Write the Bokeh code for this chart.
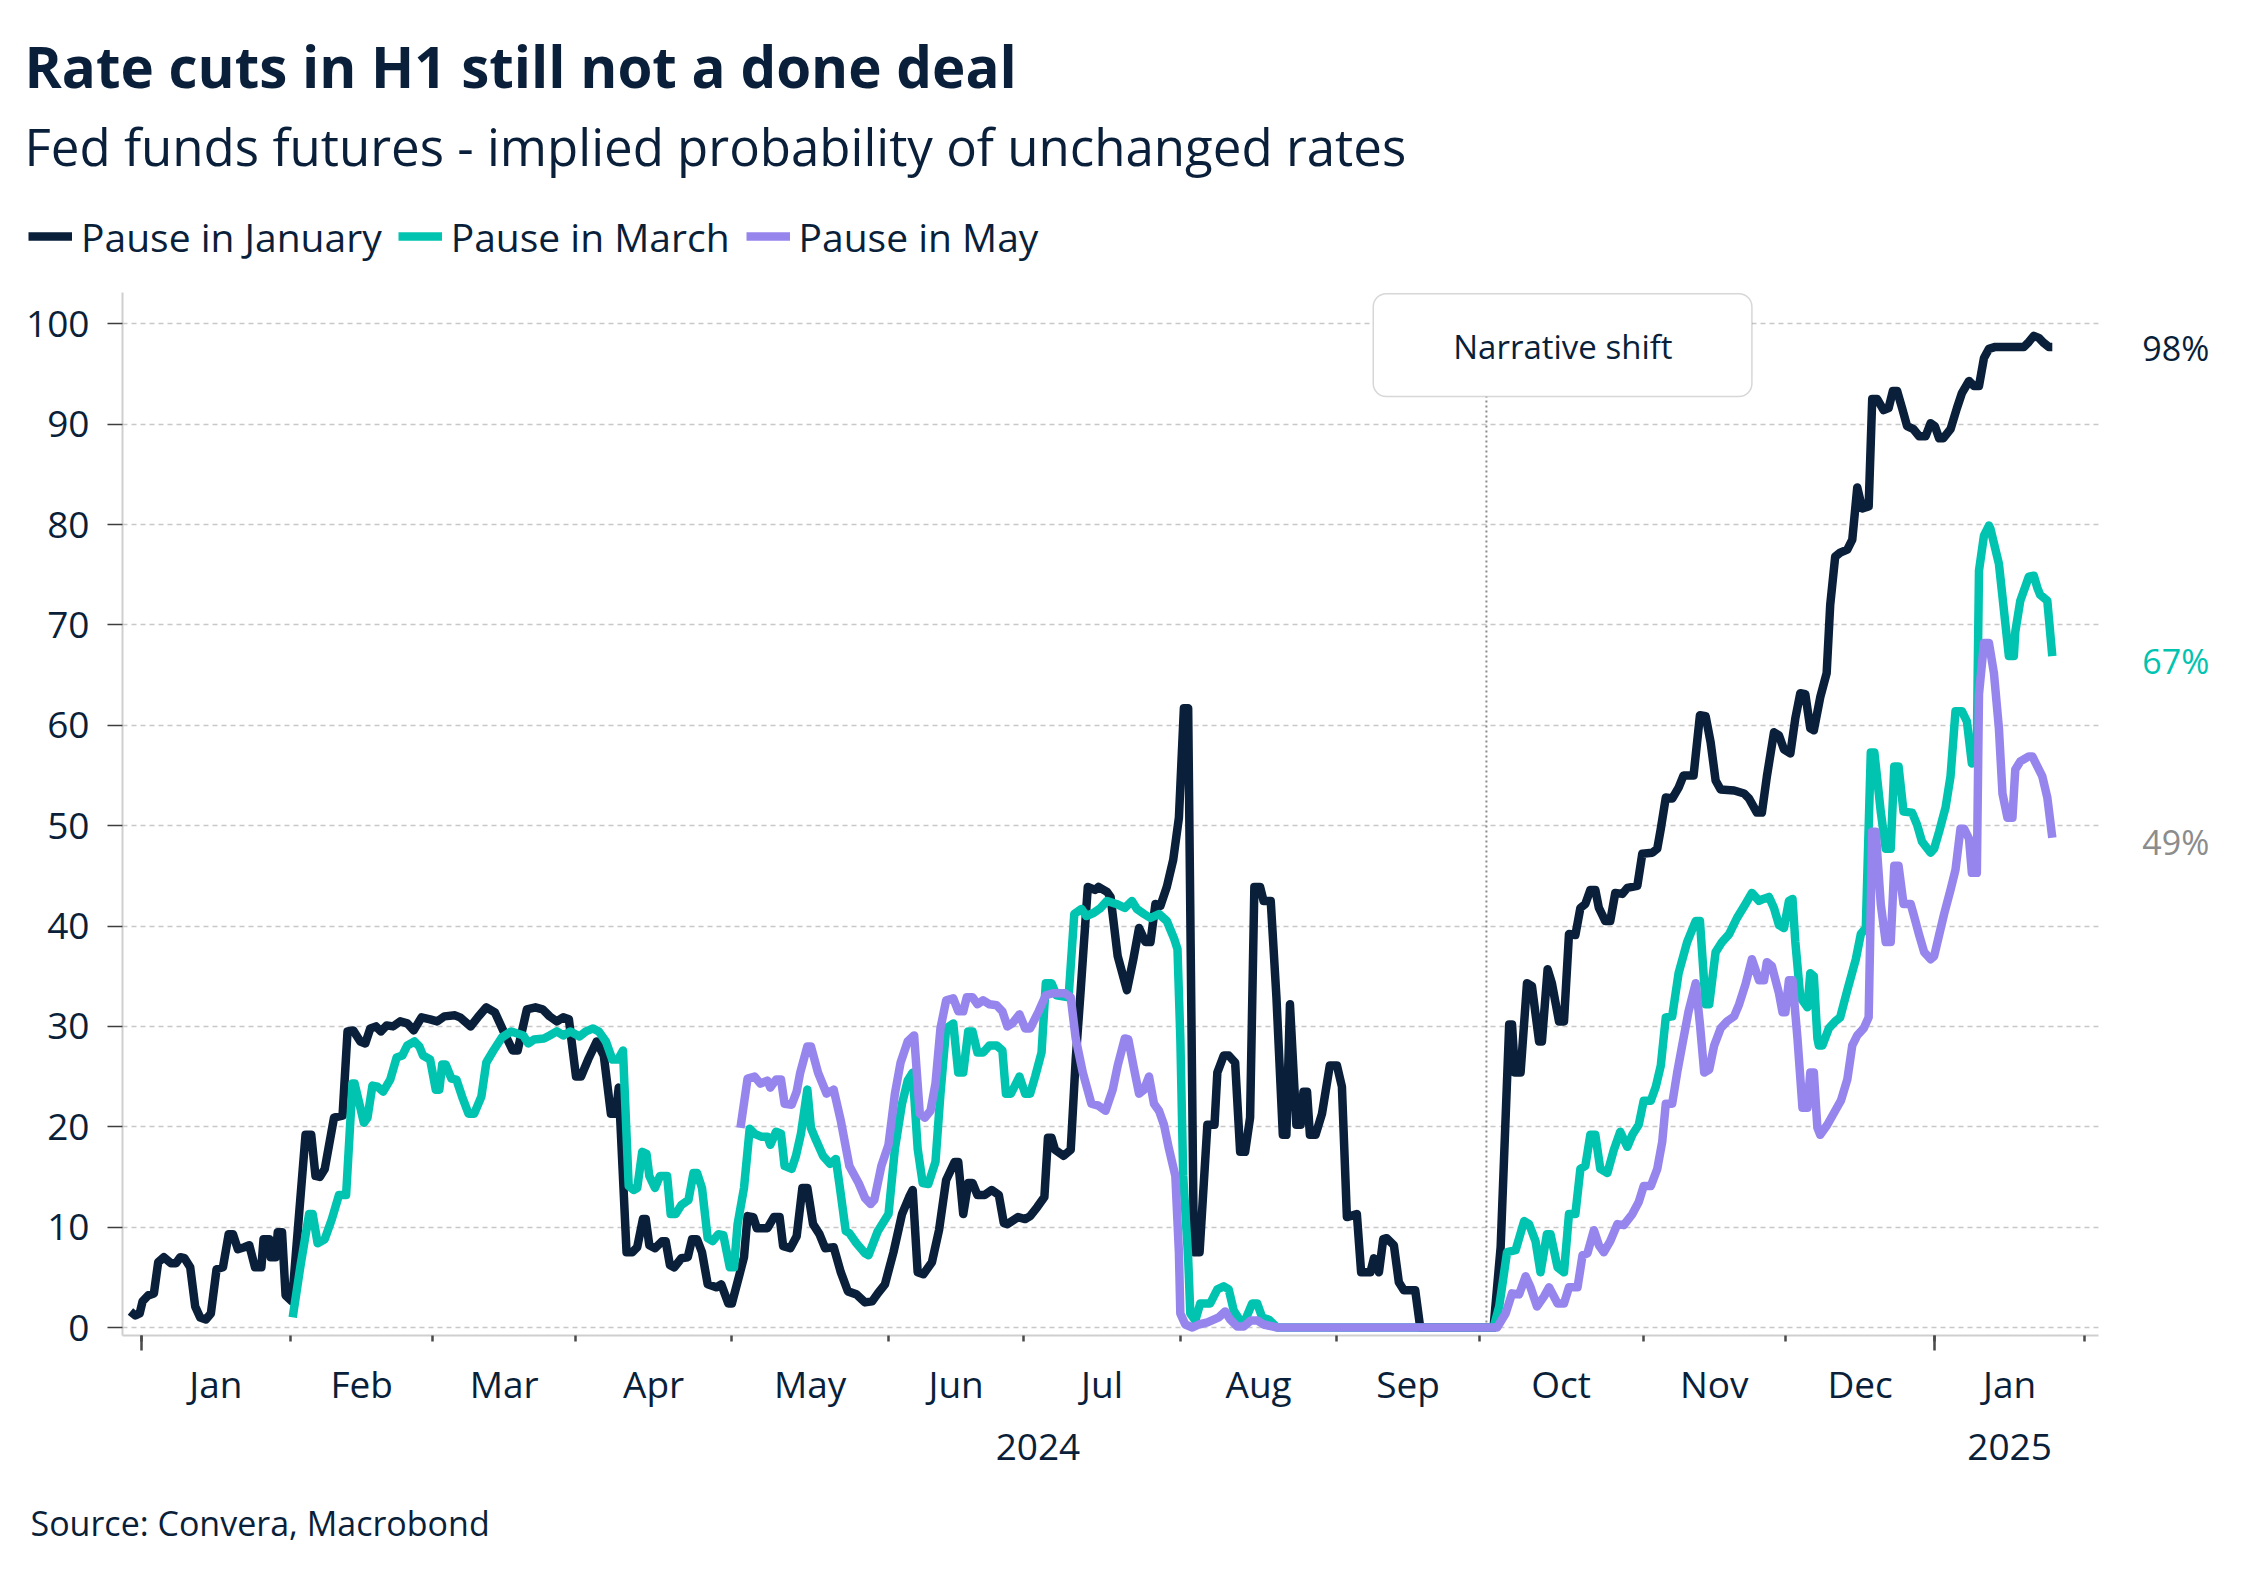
from bokeh.plotting import figure
from bokeh.layouts import column
from bokeh.models import (FixedTicker, LinearAxis, Label, Legend, LegendItem,
                          BoxAnnotation, Range1d)
from bokeh.embed import file_html
from bokeh.resources import INLINE

# ------------------------------------------------------------------ data
# x = trading-day index since 2 Jan 2024, y = implied probability (%)
jan_points = [(-1.5,1.6),(-0.8,1.2),(-0.2,1.4),(0.2,2.6),(1.0,3.2),(1.8,3.4),(2.4,6.5),(3.2,7.0),(4.2,6.4),(4.9,6.4),(5.5,7.0),(6.1,6.9),(6.9,6.0),(7.6,2.1),(8.3,1.0),(9.1,0.8),(9.8,1.4),(10.6,5.8),(11.5,6.0),(12.3,9.3),(12.9,9.3),(13.6,7.8),(14.5,8.0),(15.2,8.2),(16.0,6.0),(16.9,6.0),(17.2,8.8),(18.0,8.8),(18.2,7.0),(18.9,7.0),(19.2,9.5),(19.8,9.5),(20.3,3.2),(21.2,2.6),(23.1,19.2),(23.9,19.2),(24.5,15.1),(25.1,15.0),(25.8,15.8),(27.1,20.9),(28.3,21.1),(29.0,29.5),(29.8,29.6),(30.8,28.5),(31.5,28.3),(32.2,29.8),(33.0,30.0),(33.7,29.5),(34.5,30.1),(35.4,30.0),(36.4,30.5),(37.4,30.3),(38.3,29.6),(39.4,30.9),(40.6,30.7),(41.6,30.5),(42.6,31.0),(44.1,31.1),(44.8,30.9),(46.3,30.0),(47.3,30.9),(48.5,31.9),(49.7,31.4),(51.0,29.4),(52.2,27.6),(52.9,27.6),(54.2,31.7),(55.4,31.9),(56.4,31.7),(57.4,31.0),(58.4,30.5),(59.3,30.9),(60.1,30.7),(61.1,25.0),(61.8,25.0),(62.8,26.7),(64.0,28.5),(65.0,27.1),(66.0,21.3),(66.7,21.3),(67.1,23.9),(68.2,7.5),(69.0,7.5),(69.7,8.0),(70.5,10.8),(70.9,10.8),(71.4,8.2),(72.2,7.9),(73.2,8.6),(73.7,8.6),(74.3,6.2),(74.9,6.0),(75.9,6.9),(76.8,7.0),(77.4,8.8),(78.1,8.8),(78.8,7.5),(79.6,4.3),(80.8,4.0),(81.5,4.3),(82.5,2.4),(83.0,2.4),(84.0,5.1),(84.7,7.0),(85.2,11.1),(86.0,11.0),(86.5,9.9),(88.0,9.9),(88.9,11.0),(89.7,11.0),(90.2,8.1),(91.2,7.9),(92.1,9.1),(92.9,13.9),(93.6,13.9),(94.4,10.3),(95.3,9.3),(96.1,7.9),(97.3,8.0),(98.3,5.5),(99.3,3.6),(100.5,3.3),(101.7,2.5),(102.7,2.6),(103.5,3.4),(104.5,4.3),(105.7,7.5),(106.9,11.3),(107.9,13.0),(108.4,13.7),(109.1,5.5),(109.9,5.3),(111.1,6.5),(112.1,9.7),(113.1,14.7),(114.3,16.5),(114.8,16.5),(115.5,11.3),(116.2,14.4),(116.8,14.4),(117.5,13.2),(118.5,13.2),(119.5,13.7),(120.5,13.2),(121.2,10.4),(121.7,10.3),(123.2,11.0),(124.2,10.8),(124.9,11.1),(125.9,12.0),(126.9,13.0),(127.4,18.9),(127.9,18.9),(128.4,17.7),(129.6,17.1),(130.6,17.7),(131.3,26.7),(132.0,33.6),(133.0,43.9),(134.0,43.6),(134.5,43.9),(135.7,43.4),(136.2,42.9),(137.2,37.0),(138.5,33.6),(139.4,36.7),(140.2,39.8),(141.1,38.4),(141.8,38.4),(142.5,42.2),(143.2,42.0),(144.1,43.9),(145.0,46.6),(145.8,50.8),(146.5,61.7),(147.1,61.7),(147.9,7.5),(148.7,7.5),(149.8,20.2),(150.8,20.2),(151.2,25.4),(152.1,27.1),(152.8,27.1),(153.7,26.4),(154.4,17.5),(155.1,17.5),(155.8,20.9),(156.4,43.9),(157.2,43.9),(157.7,42.5),(158.7,42.5),(159.5,32.9),(160.4,19.2),(160.9,19.2),(161.4,32.2),(162.3,20.2),(162.9,20.2),(163.3,23.5),(163.8,23.5),(164.2,19.2),(165.0,19.2),(165.9,21.3),(167.0,26.1),(168.0,26.1),(168.7,24.0),(169.4,11.0),(170.8,11.3),(171.4,5.5),(172.7,5.5),(173.2,6.9),(173.9,5.5),(174.5,8.8),(175.0,8.9),(176.0,8.2),(176.7,4.5),(177.4,3.7),(179.0,3.7),(179.7,0.0),(190.0,0.0),(191.0,8.0),(192.2,30.2),(192.6,30.2),(193.0,25.4),(193.8,25.4),(194.7,34.3),(195.4,34.0),(196.4,28.5),(196.8,28.5),(197.6,35.7),(198.2,34.3),(199.2,30.5),(199.9,30.5),(200.6,39.2),(201.5,39.1),(202.2,41.8),(202.9,42.2),(203.6,43.6),(204.3,43.6),(204.8,41.8),(205.7,40.5),(206.4,40.5),(207.1,43.3),(208.1,43.2),(208.8,43.8),(210.2,44.0),(210.9,47.2),(212.3,47.3),(213.0,47.7),(213.5,49.7),(214.2,52.8),(215.1,52.7),(216.0,53.8),(216.7,55.0),(218.1,55.0),(219.0,61.0),(219.8,60.9),(220.5,58.3),(221.2,54.5),(221.9,53.6),(223.8,53.5),(225.2,53.2),(225.9,52.7),(227.0,51.3),(227.7,51.3),(228.4,54.9),(229.4,59.3),(230.1,59.0),(230.8,57.6),(231.7,57.2),(232.4,60.7),(233.1,63.2),(233.8,63.1),(234.5,59.7),(235.0,59.5),(235.9,62.8),(236.8,65.2),(237.3,72.0),(238.0,76.8),(238.7,77.2),(239.7,77.5),(240.4,78.5),(241.1,83.7),(241.8,81.6),(242.7,81.8),(243.2,92.5),(243.9,92.5),(244.8,91.4),(245.5,91.6),(246.1,93.3),(246.7,93.3),(247.4,91.6),(248.1,89.8),(249.0,89.5),(249.8,88.8),(250.7,88.8),(251.4,90.1),(252.0,89.8),(252.6,88.6),(253.2,88.6),(254.2,89.5),(255.1,91.6),(255.8,93.1),(256.8,94.3),(257.5,93.8),(258.2,93.8),(258.9,96.6),(259.6,97.5),(260.5,97.7),(264.5,97.7),(265.2,98.2),(265.9,98.8),(266.6,98.6),(267.3,98.1),(268.0,97.7),(268.5,97.7)]

mar_points = [(21.3,1.0),(22.4,6.2),(23.6,11.3),(24.1,11.3),(24.8,8.4),(25.8,8.8),(26.8,10.8),(27.8,13.2),(28.8,13.2),(29.7,24.3),(30.0,24.3),(31.3,20.4),(31.8,20.9),(32.5,24.1),(33.2,24.0),(34.0,23.5),(35.0,24.7),(35.9,26.9),(36.7,27.1),(37.4,28.1),(38.4,28.5),(39.1,28.0),(39.6,27.1),(40.6,26.7),(41.4,23.7),(41.9,23.7),(42.3,26.2),(42.8,26.2),(43.6,24.8),(44.3,24.7),(45.1,23.0),(46.0,21.3),(46.8,21.3),(47.8,23.0),(48.5,26.4),(49.5,27.6),(50.7,28.9),(52.0,29.5),(53.7,29.1),(54.4,28.3),(55.2,28.7),(56.6,28.8),(57.4,29.1),(58.4,29.5),(59.3,29.1),(60.3,29.5),(61.6,29.0),(62.5,29.5),(63.5,29.8),(64.3,29.5),(65.3,28.5),(66.2,26.7),(67.0,26.7),(67.7,27.6),(68.5,14.1),(69.2,13.7),(69.7,13.9),(70.4,17.5),(71.0,17.3),(71.4,15.1),(72.2,13.9),(72.9,15.1),(73.9,15.1),(74.4,11.3),(75.1,11.3),(75.9,12.2),(76.9,12.7),(77.6,15.4),(78.1,15.4),(78.8,13.9),(79.6,8.9),(80.3,8.6),(81.1,9.3),(81.8,9.2),(82.7,6.0),(83.3,6.0),(83.8,10.3),(84.7,13.9),(85.5,19.8),(86.2,19.3),(87.2,19.0),(88.0,19.0),(88.4,18.2),(89.2,19.5),(89.9,19.3),(90.4,16.1),(91.4,15.8),(92.0,17.1),(92.7,19.3),(93.6,23.7),(94.1,19.9),(94.8,18.7),(95.8,17.1),(96.8,16.3),(97.6,16.8),(98.1,14.3),(99.0,9.6),(99.5,9.4),(100.5,8.4),(101.7,7.4),(102.2,7.2),(103.5,9.6),(105.0,11.3),(105.9,17.8),(106.9,22.3),(107.7,24.6),(108.4,25.4),(109.1,17.8),(109.8,14.4),(110.6,14.3),(111.6,16.5),(112.3,23.3),(113.1,29.8),(114.1,30.3),(114.8,25.4),(115.5,25.4),(116.2,29.5),(116.8,29.5),(117.5,27.4),(118.3,27.4),(119.2,28.1),(120.2,28.1),(121.0,27.6),(121.5,23.3),(122.2,23.3),(123.4,25.0),(124.2,23.3),(124.9,23.3),(125.6,25.0),(126.5,27.4),(127.1,34.3),(127.9,34.3),(128.6,33.1),(130.3,32.9),(131.1,41.2),(132.1,41.7),(132.8,41.0),(133.8,41.3),(134.8,41.8),(135.7,42.5),(137.0,42.2),(138.2,41.8),(139.2,42.5),(139.9,41.7),(140.9,41.2),(141.8,40.8),(143.0,41.2),(144.1,40.5),(145.1,38.8),(145.6,37.7),(146.0,28.8),(146.4,15.1),(147.1,6.9),(147.4,1.4),(148.1,0.7),(148.8,2.4),(150.2,2.4),(151.2,3.8),(152.1,4.1),(152.8,3.8),(153.5,1.7),(154.4,0.7),(155.1,0.7),(156.1,2.4),(156.8,2.4),(157.5,1.0),(158.4,0.8),(159.6,0.0),(190.0,0.0),(190.8,2.1),(191.9,7.5),(193.1,7.7),(194.3,10.6),(195.0,10.3),(195.9,8.6),(196.6,5.5),(197.5,9.3),(198.0,9.3),(199.0,6.0),(199.9,5.5),(200.6,11.3),(201.5,11.3),(202.2,15.8),(202.9,16.1),(203.6,19.2),(204.3,19.2),(205.0,15.8),(206.0,15.4),(206.9,17.7),(207.8,19.5),(208.8,18.0),(209.5,19.2),(210.4,20.2),(211.1,22.6),(212.1,22.6),(212.8,24.0),(213.5,26.1),(214.2,30.9),(215.1,31.0),(216.0,35.3),(217.2,38.4),(218.4,40.5),(219.0,40.5),(219.8,32.2),(220.3,32.2),(221.2,37.4),(222.1,38.4),(223.1,39.2),(224.2,40.8),(225.4,42.2),(226.3,43.3),(227.3,42.5),(227.9,42.7),(228.7,42.9),(229.4,41.8),(230.1,40.1),(230.8,39.8),(231.5,42.5),(232.0,42.7),(232.4,38.4),(233.1,32.9),(234.1,31.9),(234.5,35.3),(235.0,35.0),(235.5,28.8),(235.7,28.1),(236.2,28.1),(237.1,29.8),(238.0,30.5),(238.7,30.9),(239.7,33.6),(240.9,36.7),(241.6,39.2),(242.3,39.8),(243.0,57.3),(243.5,57.3),(244.4,51.4),(245.1,47.7),(245.8,47.7),(246.3,55.9),(246.9,55.9),(247.6,51.4),(248.8,51.3),(249.5,50.1),(250.2,48.4),(251.4,47.3),(251.9,47.7),(252.6,49.4),(253.5,51.8),(254.2,54.9),(254.9,61.4),(255.8,61.4),(256.5,60.4),(257.2,56.2),(257.9,58.2),(258.2,75.4),(258.9,78.9),(259.6,79.9),(259.8,79.6),(261.0,76.1),(262.4,66.9),(263.1,66.9),(263.3,69.3),(264.0,72.4),(265.2,74.8),(265.9,74.9),(266.4,73.7),(266.8,73.0),(267.8,72.4),(268.5,66.9)]

may_points = [(84.2,19.9),(85.2,24.8),(86.2,25.0),(87.0,24.3),(88.0,24.6),(88.4,23.9),(89.2,24.7),(89.9,24.7),(90.4,22.3),(91.4,22.2),(92.1,23.5),(92.6,25.4),(93.6,28.0),(94.1,28.0),(95.1,25.4),(96.3,23.3),(97.3,23.7),(98.3,20.6),(99.5,16.1),(100.8,14.4),(101.7,12.9),(102.5,12.3),(103.0,12.7),(104.0,16.1),(105.0,18.2),(105.9,23.3),(106.7,26.4),(107.7,28.5),(108.6,29.1),(109.4,21.3),(110.1,20.9),(110.9,21.6),(111.6,24.3),(112.3,29.8),(113.1,32.6),(114.1,32.8),(114.8,31.5),(115.5,31.5),(116.0,32.9),(116.8,32.9),(117.5,32.2),(118.3,32.6),(119.2,32.2),(120.2,32.1),(121.0,31.5),(121.7,30.0),(122.4,30.3),(123.4,31.2),(124.2,29.8),(124.9,29.8),(126.1,31.5),(127.1,33.1),(128.1,33.3),(129.8,33.3),(130.6,32.9),(131.3,28.8),(132.3,25.4),(133.5,22.3),(134.5,22.1),(135.5,21.6),(136.5,23.7),(137.2,26.1),(138.2,28.8),(138.7,28.7),(139.4,26.1),(140.2,23.3),(140.9,23.7),(141.6,25.0),(142.3,22.3),(143.0,21.6),(143.7,20.2),(144.4,17.8),(145.3,15.1),(145.8,7.5),(146.0,1.4),(146.7,0.3),(147.7,0.0),(148.6,0.3),(149.8,0.5),(151.4,1.0),(152.3,1.6),(153.0,0.8),(154.0,0.1),(154.9,0.1),(155.9,0.7),(156.8,0.7),(157.7,0.3),(159.6,0.0),(190.5,0.0),(191.7,1.4),(192.6,3.4),(193.6,3.3),(194.5,5.1),(195.2,4.0),(196.1,2.1),(197.1,3.1),(197.8,4.0),(199.0,2.4),(199.9,2.4),(200.6,4.0),(201.8,4.0),(202.5,7.2),(203.2,7.4),(204.1,9.7),(204.8,8.2),(205.5,7.5),(206.4,8.6),(207.4,10.3),(208.3,10.2),(209.5,11.3),(210.4,12.5),(211.1,14.1),(212.1,14.1),(213.0,15.8),(213.7,18.5),(214.2,22.3),(215.1,22.3),(215.8,25.4),(216.5,28.1),(217.4,31.5),(218.4,34.3),(219.0,30.2),(219.6,25.4),(220.3,25.7),(221.0,28.1),(221.9,29.8),(222.8,30.5),(223.8,31.0),(224.5,32.2),(225.4,34.2),(226.3,36.7),(227.3,34.6),(228.0,34.6),(228.4,36.4),(229.1,36.0),(230.1,33.3),(230.6,31.4),(231.0,31.4),(231.5,34.6),(232.0,34.6),(232.7,28.8),(233.4,21.9),(234.1,21.9),(234.5,25.4),(235.0,25.4),(235.5,19.9),(235.9,19.2),(236.9,20.2),(238.0,21.6),(238.8,22.6),(239.7,24.7),(240.4,28.1),(241.1,29.1),(242.0,29.8),(242.7,30.9),(243.2,49.4),(243.7,49.4),(244.4,42.2),(245.1,38.4),(245.8,38.4),(246.3,46.0),(246.9,46.0),(247.6,42.2),(248.6,42.2),(249.0,41.2),(249.8,39.1),(250.5,37.4),(251.4,36.7),(251.9,37.0),(252.6,39.1),(253.3,41.2),(254.2,43.6),(254.9,45.6),(255.6,49.7),(256.1,49.7),(256.8,48.7),(257.2,45.3),(257.9,45.3),(258.2,63.1),(258.9,68.2),(259.6,68.2),(260.3,65.2),(261.0,59.7),(261.5,53.2),(262.2,50.8),(262.9,50.8),(263.3,55.6),(264.0,56.4),(265.2,56.9),(265.7,56.9),(266.4,55.9),(267.1,54.9),(267.8,52.8),(268.5,48.8)]

series_names = ["Pause in January", "Pause in March", "Pause in May"]
month_names = ["Jan", "Feb", "Mar", "Apr", "May", "Jun", "Jul", "Aug", "Sep", "Oct", "Nov", "Dec", "Jan"]
month_trading_days = [21, 20, 20, 22, 22, 19, 22, 22, 20, 23, 20, 21, 21]
year_names = ["2024", "2025"]
y_ticks = [0, 10, 20, 30, 40, 50, 60, 70, 80, 90, 100]
narrative_day = 189
narrative_text = "Narrative shift"
title_text = "Rate cuts in H1 still not a done deal"
subtitle_text = "Fed funds futures - implied probability of unchanged rates"
source_text = "Source: Convera, Macrobond"

# ------------------------------------------------------------------ derived axis positions
bounds = [0]
for d in month_trading_days:
    bounds.append(bounds[-1] + d)
month_mids = [(a + b) / 2 for a, b in zip(bounds[:-1], bounds[1:])]
year_bounds = [bounds[0], bounds[12]]
year_mids = [(bounds[0] + bounds[12]) / 2, (bounds[12] + bounds[13]) / 2]
all_points = [jan_points, mar_points, may_points]

# ------------------------------------------------------------------ style
FONT = "Open Sans"
NAVY = "#0A1F3A"
TEAL = "#00C4B0"
PURPLE = "#9785EE"
GREY_LABEL = "#8C8C8C"
colors = [NAVY, TEAL, PURPLE]
label_colors = [NAVY, TEAL, GREY_LABEL]
LW = 8.5
W = 2240
HEADER_H = 292
FOOTER_H = 88
CHART_H = 1568 - HEADER_H - FOOTER_H
X_END_GRID = 275.04   # right end of the grid / axis line


def bare(fig):
    fig.outline_line_color = None
    fig.background_fill_color = "white"
    fig.border_fill_color = "white"
    if "frame_align" in fig.properties():
        fig.frame_align = False
    return fig


# ------------------------------------------------------------------ header (title, subtitle, legend)
head = bare(figure(width=W, height=HEADER_H, output_backend="svg", toolbar_location=None,
                   x_range=Range1d(0, W), y_range=Range1d(0, HEADER_H),
                   x_axis_type=None, y_axis_type=None, min_border=0))
head.add_layout(Label(x=24, y=226, text=title_text, text_font=FONT, text_font_size="56.5px",
                      text_font_style="bold", text_color=NAVY, text_baseline="middle"))
head.add_layout(Label(x=24, y=147, text=subtitle_text, text_font=FONT, text_font_size="51px",
                      text_color=NAVY, text_baseline="middle"))
keys = [head.line(x=[pts[0][0]], y=[pts[0][1]], line_color=c, line_width=LW)
        for pts, c in zip(all_points, colors)]
head.add_layout(Legend(items=[LegendItem(label=n, renderers=[k]) for n, k in zip(series_names, keys)],
                       location=(28, 28), orientation="horizontal",
                       glyph_width=44, glyph_height=56, label_height=56, label_standoff=9,
                       spacing=16, padding=0, margin=0, border_line_color=None,
                       background_fill_alpha=0, label_text_font=FONT,
                       label_text_font_size="39px", label_text_color=NAVY))

# ------------------------------------------------------------------ chart
p = bare(figure(width=W, height=CHART_H, output_backend="svg", toolbar_location=None,
                x_range=Range1d(-2.613, 294.94), y_range=Range1d(-0.797, 103.12),
                x_axis_type=None, min_border_left=122, min_border_right=0,
                min_border_top=0, min_border_bottom=CHART_H - 1043))

yax = p.yaxis[0]
yax.ticker = FixedTicker(ticks=y_ticks)
yax.major_tick_out = 15
yax.major_tick_in = 0
yax.minor_tick_out = 0
yax.minor_tick_in = 0
yax.major_tick_line_color = "#3d3d3d"
yax.major_tick_line_width = 1.5
yax.axis_line_color = "#cfcfcf"
yax.axis_line_width = 2
yax.major_label_text_font = FONT
yax.major_label_text_font_size = "37px"
yax.major_label_text_color = NAVY
yax.major_label_standoff = 18
p.ygrid.ticker = FixedTicker(ticks=y_ticks)
p.ygrid.grid_line_color = "#c8c8c8"
p.ygrid.grid_line_dash = "5 4"
p.ygrid.grid_line_width = 1.5

ax_ticks = LinearAxis(ticker=FixedTicker(ticks=year_bounds, minor_ticks=bounds),
                      bounds=(-2.613, X_END_GRID),
                      major_label_overrides={float(v): "" for v in year_bounds},
                      major_label_text_font_size="1px",
                      major_tick_out=15, major_tick_in=0, minor_tick_out=6, minor_tick_in=0,
                      major_tick_line_color="#4a4a4a", major_tick_line_width=2.5,
                      minor_tick_line_color="#4a4a4a", minor_tick_line_width=2.5,
                      axis_line_color="#cfcfcf", axis_line_width=2, major_label_standoff=0)
p.add_layout(ax_ticks, "below")

ax_months = LinearAxis(ticker=FixedTicker(ticks=month_mids, minor_ticks=[]),
                       major_label_overrides={float(m): n for m, n in zip(month_mids, month_names)},
                       major_tick_out=0, major_tick_in=0, minor_tick_out=0, minor_tick_in=0,
                       axis_line_color=None, major_label_standoff=7,
                       major_label_text_font=FONT, major_label_text_font_size="37px",
                       major_label_text_color=NAVY)
p.add_layout(ax_months, "below")

ax_years = LinearAxis(ticker=FixedTicker(ticks=year_mids, minor_ticks=[]),
                      major_label_overrides={float(m): n for m, n in zip(year_mids, year_names)},
                      major_tick_out=0, major_tick_in=0, minor_tick_out=0, minor_tick_in=0,
                      axis_line_color=None, major_label_standoff=22,
                      major_label_text_font=FONT, major_label_text_font_size="37px",
                      major_label_text_color=NAVY)
p.add_layout(ax_years, "below")

# white mask: grid stops at the end of the time axis, labels live to its right
p.add_layout(BoxAnnotation(left=X_END_GRID, fill_color="white", fill_alpha=1.0,
                           line_alpha=0, level="glyph"))

# narrative shift marker
p.segment(x0=[narrative_day], y0=[0], x1=[narrative_day], y1=[92.76],
          line_color="#8c8c8c", line_width=2, line_dash="2 3")

renderers = []
for pts, col in zip(all_points, colors):
    xs = [a for a, b in pts]
    ys = [b for a, b in pts]
    renderers.append(p.line(xs, ys, line_color=col, line_width=LW, line_join="round"))

p.add_layout(BoxAnnotation(left=173.1, right=226.3, bottom=92.76, top=103.0,
                           fill_color="white", fill_alpha=1.0, line_color="#7a7a7a",
                           line_width=1.5, border_radius=13, level="annotation"))
p.add_layout(Label(x=199.75, y=97.74, text=narrative_text, text_align="center",
                   text_baseline="middle", text_font=FONT, text_font_size="33px",
                   text_color=NAVY))

end_offsets = [-1, -5, -4]
for pts, col, off in zip(all_points, label_colors, end_offsets):
    lx, ly = pts[-1]
    p.add_layout(Label(x=lx, y=ly, x_offset=90, y_offset=off, text=f"{round(ly)}%",
                       text_align="left", text_baseline="middle",
                       text_font=FONT, text_font_size="34px", text_color=col))

# ------------------------------------------------------------------ footer (source)
foot = bare(figure(width=W, height=FOOTER_H, output_backend="svg", toolbar_location=None,
                   x_range=Range1d(0, W), y_range=Range1d(0, FOOTER_H),
                   x_axis_type=None, y_axis_type=None, min_border=0))
foot.add_layout(Label(x=30, y=46, text=source_text, text_font=FONT, text_font_size="34px",
                      text_color=NAVY, text_baseline="middle"))

layout = column(head, p, foot, spacing=0)
open("out.html", "w").write(file_html(layout, INLINE))
